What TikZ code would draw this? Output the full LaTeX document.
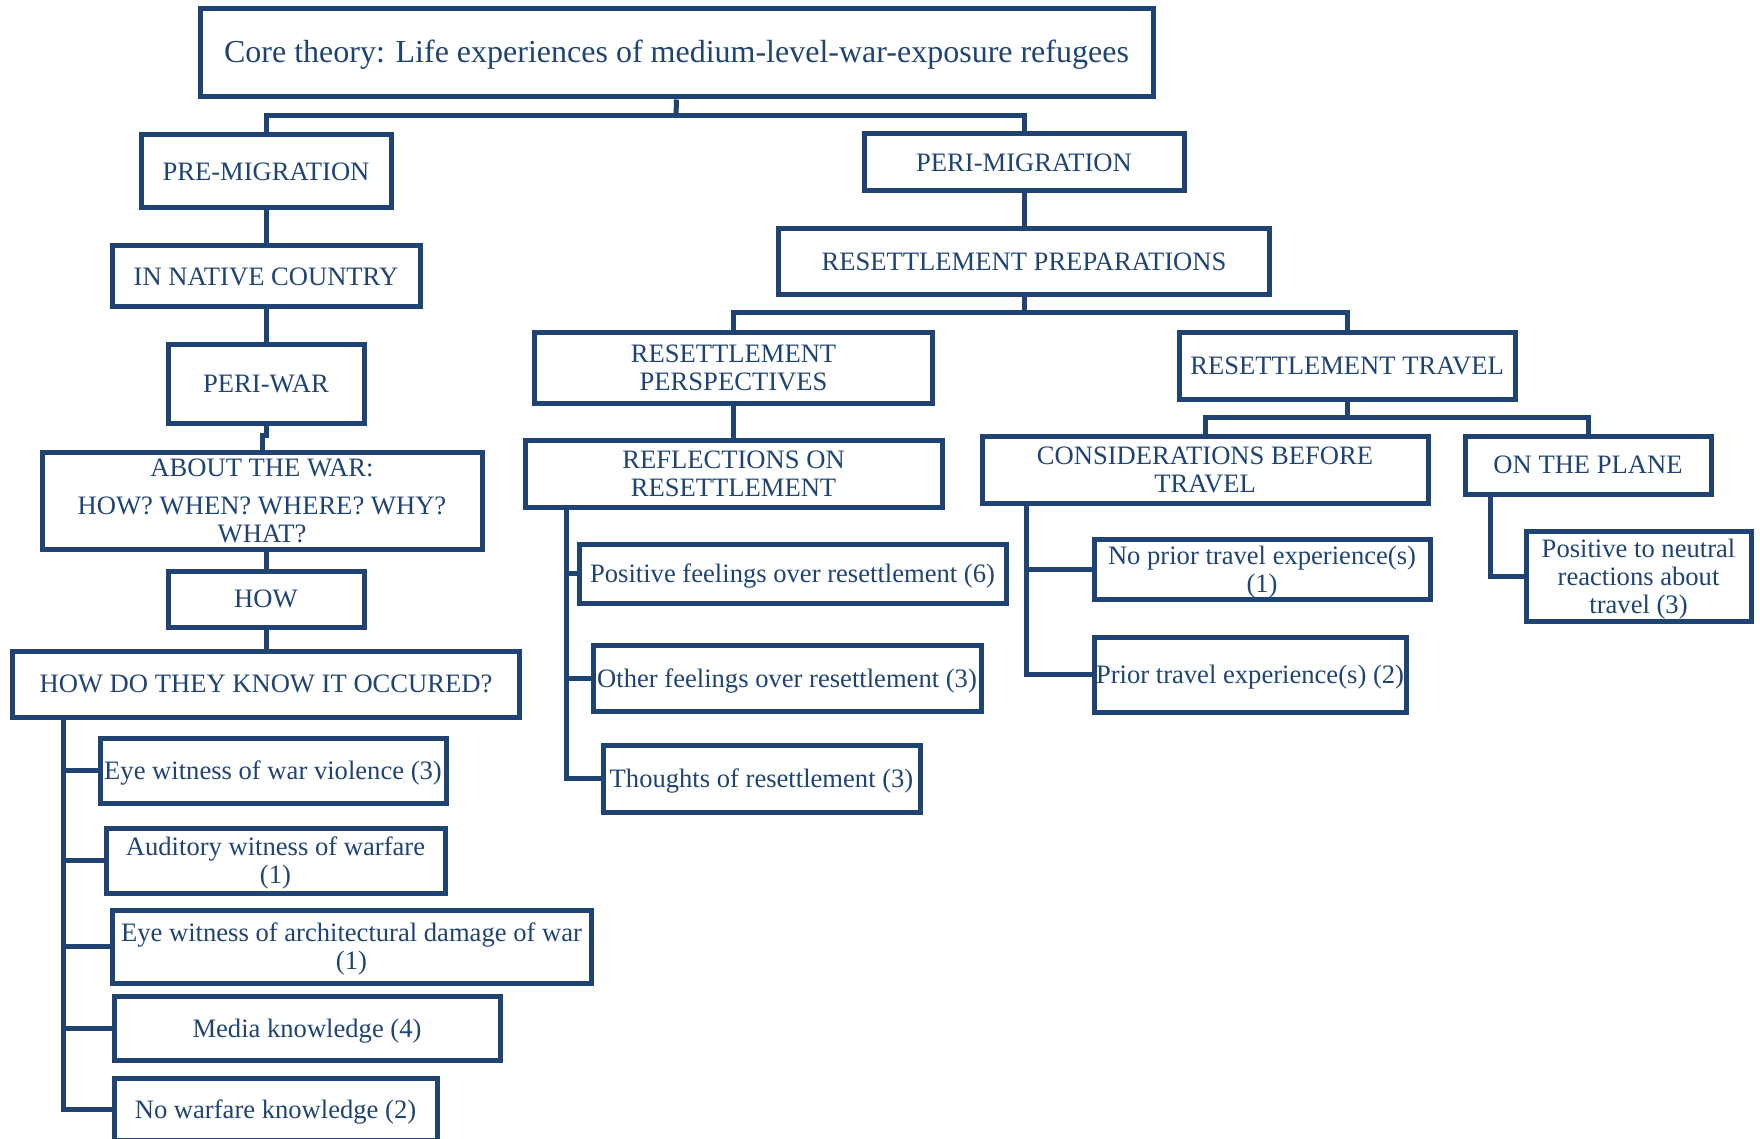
\documentclass[tikz,border=0pt]{standalone}
\usepackage{fontspec}
\setmainfont{Liberation Serif}
\definecolor{navy}{RGB}{31,68,116}
\begin{document}
\begin{tikzpicture}[x=1pt,y=-1pt,
  box/.style={rectangle, draw=navy, line width=5pt, text=navy, inner sep=0pt,
    text depth=0pt, align=center, font=\fontsize{26.6}{28}\selectfont},
  link/.style={draw=navy, line width=5pt}]
\useasboundingbox (0,0) rectangle (1760,1139);
\clip (0,0) rectangle (1760,1139);
\fill[white] (0,0) rectangle (1760,1139);

% ---- root ----
\node[box, minimum width=953pt, minimum height=88pt, text depth=4pt, font=\fontsize{32}{34}\selectfont] (core) at (676.5,53)
  {Core theory: Life experiences of medium-level-war-exposure refugees};

% ---- pre-migration branch ----
\node[box, minimum width=250pt, minimum height=73pt] (pre) at (266,171.5) {PRE-MIGRATION};
\node[box, minimum width=308pt, minimum height=61pt] (native) at (266,276.5) {IN NATIVE COUNTRY};
\node[box, minimum width=196pt, minimum height=79pt] (periwar) at (266,383.5) {PERI-WAR};
\node[box, minimum width=440pt, minimum height=97pt] (about) at (262,500.5)
  {ABOUT THE WAR:\\[10pt]HOW? WHEN? WHERE? WHY?\\WHAT?};
\node[box, minimum width=196pt, minimum height=56pt] (how) at (266,599) {HOW};
\node[box, minimum width=507pt, minimum height=66pt] (know) at (266,684) {HOW DO THEY KNOW IT OCCURED?};
\node[box, minimum width=346pt, minimum height=65pt] (ewv) at (273,770.5) {Eye witness of war violence (3)};
\node[box, minimum width=339pt, minimum height=65pt] (aud) at (275.5,860.5) {Auditory witness of warfare\\(1)};
\node[box, minimum width=479pt, minimum height=73pt] (arch) at (351.5,946.5) {Eye witness of architectural damage of war\\(1)};
\node[box, minimum width=386pt, minimum height=64pt] (media) at (307,1028) {Media knowledge (4)};
\node[box, minimum width=323pt, minimum height=62pt] (nowar) at (275.5,1109) {No warfare knowledge (2)};

% ---- peri-migration branch ----
\node[box, minimum width=320pt, minimum height=57pt] (peri) at (1024,162.5) {PERI-MIGRATION};
\node[box, minimum width=491pt, minimum height=66pt] (prep) at (1024,262) {RESETTLEMENT PREPARATIONS};
\node[box, minimum width=398pt, minimum height=71pt] (persp) at (733.5,367.5) {RESETTLEMENT\\PERSPECTIVES};
\node[box, minimum width=417pt, minimum height=67pt] (refl) at (733.5,473.5) {REFLECTIONS ON\\RESETTLEMENT};
\node[box, minimum width=427pt, minimum height=59pt] (posf) at (792.5,573.5) {Positive feelings over resettlement (6)};
\node[box, minimum width=388pt, minimum height=66pt] (othf) at (787,678) {Other feelings over resettlement (3)};
\node[box, minimum width=317pt, minimum height=67pt] (thou) at (761.5,778.5) {Thoughts of resettlement (3)};
\node[box, minimum width=336pt, minimum height=67pt] (travel) at (1347,365.5) {RESETTLEMENT TRAVEL};
\node[box, minimum width=446pt, minimum height=67pt] (cons) at (1205,469.5) {CONSIDERATIONS BEFORE\\TRAVEL};
\node[box, minimum width=246pt, minimum height=58pt] (plane) at (1588,465) {ON THE PLANE};
\node[box, minimum width=336pt, minimum height=60pt] (nopr) at (1262,569) {No prior travel experience(s)\\(1)};
\node[box, minimum width=312pt, minimum height=75pt] (prior) at (1250,674.5) {Prior travel experience(s) (2)};
\node[box, minimum width=225pt, minimum height=90pt] (posn) at (1638.5,576) {Positive to neutral\\reactions about\\travel (3)};

% ---- connectors ----
\coordinate (j0) at (676,116);
\draw[link] (core.south) -- (j0);
\draw[link] (pre.north) |- (j0) -| (peri.north);
\draw[link] (pre) -- (native);
\draw[link] (native) -- (periwar);
\draw[link] (periwar.south) -- ++(0,10) -| (about.north);
\draw[link] (how.north) -- (how.north |- about.south);
\draw[link] (how) -- (know);
\coordinate (kt) at (63,717);
\draw[link] (kt) |- (nowar.west);
\foreach \n in {ewv,aud,arch,media} \draw[link] (kt |- \n.west) -- (\n.west);

\draw[link] (peri) -- (prep);
\coordinate (j1) at (1024,313);
\draw[link] (prep.south) -- (j1);
\draw[link] (persp.north) |- (j1) -| (travel.north);
\draw[link] (persp) -- (refl);
\coordinate (rt) at (566,507);
\draw[link] (rt) |- (thou.west);
\foreach \n in {posf,othf} \draw[link] (rt |- \n.west) -- (\n.west);

\coordinate (j2) at (1347,417);
\draw[link] (travel.south) -- (j2);
\draw[link] (cons.north) |- (j2) -| (plane.north);
\coordinate (ct) at (1026,503);
\draw[link] (ct) |- (prior.west);
\draw[link] (ct |- nopr.west) -- (nopr.west);
\coordinate (pt) at (1490,494);
\draw[link] (pt) |- (posn.west);
\end{tikzpicture}
\end{document}
